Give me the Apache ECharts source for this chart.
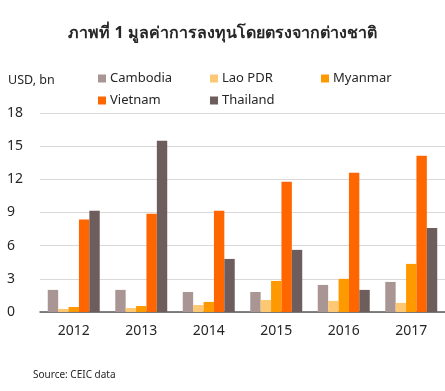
<!DOCTYPE html>
<html><head><meta charset="utf-8">
<script src="https://cdn.jsdelivr.net/npm/echarts@6/dist/echarts.min.js"></script>
<style>html,body{margin:0;padding:0;background:#fff}#c{width:445px;height:391px}</style>
</head><body><div id="c"></div>
<script>
const categories = ['2012','2013','2014','2015','2016','2017'];
const seriesNames = ['Cambodia','Lao PDR','Myanmar','Vietnam','Thailand'];
const cambodia = [2.0, 2.0, 1.81, 1.81, 2.45, 2.72];
const lao = [0.28, 0.36, 0.63, 1.09, 1.0, 0.82];
const myanmar = [0.45, 0.54, 0.91, 2.81, 3.0, 4.35];
const vietnam = [8.36, 8.88, 9.15, 11.78, 12.59, 14.13];
const thailand = [9.15, 15.49, 4.8, 5.62, 2.0, 7.6];
const yTicks = [0, 3, 6, 9, 12, 15, 18];
const colors = ['#A99593', '#FDC874', '#FF9900', '#FF6600', '#6D5E5D'];
const F = 'Noto Sans, Tahoma, sans-serif';
const allData = [cambodia, lao, myanmar, vietnam, thailand];
const legendPos = [[98, 72], [210, 72], [321, 72], [98, 94], [210, 94]];
const chart = echarts.init(document.getElementById('c'));
chart.setOption({
  animation: false,
  title: {text: 'ภาพที่ 1 มูลค่าการลงทุนโดยตรงจากต่างชาติ', left: 'center', top: 20,
    textStyle: {fontFamily: F, fontSize: 16, fontWeight: 'bold', color: '#262626'}},
  graphic: [
    {type: 'text', left: 8, top: 74, style: {text: 'USD, bn', fontFamily: F, fontSize: 12.5, fill: '#262626'}},
    {type: 'text', left: 33, top: 370, style: {text: 'Source: CEIC data', fontFamily: F, fontSize: 10, fill: '#262626'}}
  ],
  legend: seriesNames.map((n, i) => ({
    data: [n], left: legendPos[i][0], top: legendPos[i][1], padding: 0,
    itemWidth: 8, itemHeight: 8, itemGap: 4, icon: 'rect',
    textStyle: {fontFamily: F, fontSize: 13, color: '#262626', padding: [0, 0, 0, -1]}
  })),
  grid: {left: 40, right: 0, top: 113, bottom: 79},
  xAxis: {type: 'category', data: categories,
    axisLine: {lineStyle: {color: '#595959', width: 1.5}}, axisTick: {show: false},
    axisLabel: {fontFamily: F, fontSize: 14, color: '#262626', margin: 12}},
  yAxis: {type: 'value', min: yTicks[0], max: yTicks[yTicks.length-1], interval: 3,
    axisLine: {show: false}, axisTick: {show: false},
    splitLine: {lineStyle: {color: '#D9D9D9', width: 1}},
    axisLabel: {fontFamily: F, fontSize: 14, color: '#262626', margin: 33, align: 'left'}},
  series: seriesNames.map((n, i) => ({
    name: n, type: 'bar', data: allData[i], barGap: '0%', barCategoryGap: '23%',
    itemStyle: {color: colors[i]}
  }))
});
</script></body></html>
